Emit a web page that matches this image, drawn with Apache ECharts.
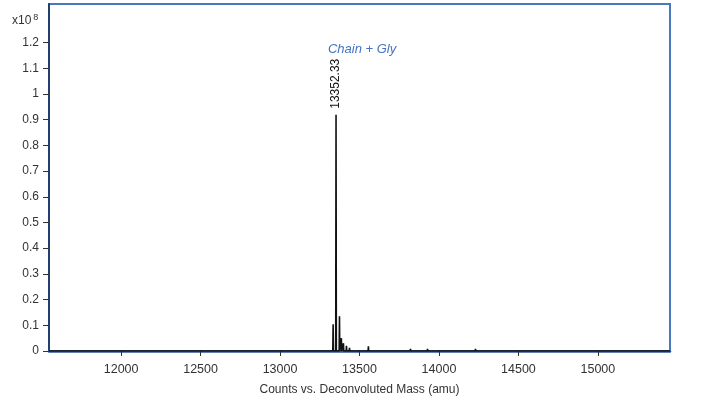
<!DOCTYPE html>
<html>
<head>
<meta charset="utf-8">
<script src="https://cdn.jsdelivr.net/npm/echarts@6/dist/echarts.min.js"></script>
<style>
  html, body { margin: 0; padding: 0; background: #fff; }
  #chart { width: 709px; height: 401px; }
</style>
</head>
<body>
<div id="chart"></div>
<script>
// deconvoluted spectrum, counts in units of 1e8
const peakMass = [12076, 12447, 12529, 12769, 13185, 13334, 13352.33, 13374, 13386, 13399, 13418, 13437, 13556, 13727, 13821, 13928, 14230, 14483];
const peakCounts = [0.004, 0.003, 0.004, 0.003, 0.004, 0.104, 0.919, 0.135, 0.05, 0.03, 0.02, 0.012, 0.018, 0.005, 0.008, 0.008, 0.008, 0.004];
const massTicks = [12000, 12500, 13000, 13500, 14000, 14500, 15000];
const countTicks = [0, 0.1, 0.2, 0.3, 0.4, 0.5, 0.6, 0.7, 0.8, 0.9, 1, 1.1, 1.2];
const massRange = [11546, 15454];
const mainPeak = '13352.33';
const mainLabel = 'Chain + Gly';

const FONT = 'Liberation Sans';
const halfWidth = 2;

// stick spectrum: each peak rises from the baseline and falls back
const points = [[massRange[0], 0]];
peakMass.forEach((m, i) => {
  points.push([m - halfWidth, 0]);
  if (String(m) === mainPeak) {
    points.push({
      value: [m, peakCounts[i]],
      label: {
        show: true, position: 'top', rotate: 90, align: 'left', verticalAlign: 'middle',
        distance: 6, formatter: mainPeak, color: '#111', fontFamily: FONT, fontSize: 12,
      },
    });
  } else {
    points.push([m, peakCounts[i]]);
  }
  points.push([m + halfWidth, 0]);
});
points.push([massRange[1], 0]);

const mainIndex = peakMass.findIndex((m) => String(m) === mainPeak);

const chart = echarts.init(document.getElementById('chart'));
chart.setOption({
  animation: false,
  backgroundColor: '#fff',
  title: {
    left: 7, top: 8,
    text: 'x10{s|8}',
    textStyle: {
      fontFamily: FONT, fontSize: 12, fontWeight: 'normal', color: '#333',
      rich: { s: { fontFamily: FONT, fontSize: 9, color: '#333', verticalAlign: 'top', padding: [0, 0, 6, 2] } },
    },
  },
  grid: {
    left: 49, right: 39, top: 4, bottom: 46,
    show: true, borderColor: '#4a78c0', borderWidth: 2,
  },
  xAxis: {
    type: 'value',
    min: massRange[0], max: massRange[1],
    splitLine: { show: false },
    axisLine: { lineStyle: { color: '#2f5597', width: 2.5 } },
    axisTick: { customValues: massTicks, length: 5, lineStyle: { color: '#333' } },
    axisLabel: { customValues: massTicks, formatter: (v) => String(v), color: '#333', fontFamily: FONT, fontSize: 12.5, margin: 12 },
    name: 'Counts vs. Deconvoluted Mass (amu)',
    nameLocation: 'middle', nameGap: 33,
    nameTextStyle: { color: '#333', fontFamily: FONT, fontSize: 12 },
  },
  yAxis: {
    type: 'value',
    min: 0, max: 1.35,
    splitLine: { show: false },
    axisLine: { show: true, lineStyle: { color: '#22406e', width: 2 } },
    axisTick: { customValues: countTicks, length: 6, lineStyle: { color: '#333' } },
    axisLabel: { customValues: countTicks, formatter: (v) => String(v), color: '#333', fontFamily: FONT, fontSize: 12, margin: 10 },
  },
  series: [{
    type: 'line',
    data: points,
    showSymbol: true,
    symbol: 'circle',
    symbolSize: 0,
    lineStyle: { color: '#111', width: 1.6 },
    markPoint: {
      symbol: 'circle',
      symbolSize: 0,
      data: [{
        coord: [peakMass[mainIndex], peakCounts[mainIndex]],
        label: {
          show: true, position: 'inside', formatter: mainLabel, offset: [26, -65],
          color: '#4472c4', fontStyle: 'italic', fontFamily: FONT, fontSize: 13,
        },
      }],
    },
  }],
});
</script>
</body>
</html>
